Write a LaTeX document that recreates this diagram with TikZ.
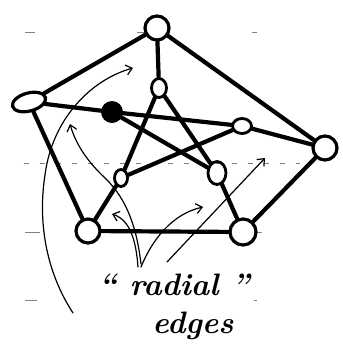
\documentclass[tikz,border=0pt]{standalone}
\usetikzlibrary{shapes.geometric,arrows.meta}
\begin{document}
\begin{tikzpicture}[x=1pt,y=-1pt,
  vtx/.style={circle,draw,line width=3.2pt,inner sep=0pt,minimum size=24pt},
  oval/.style={ellipse,draw,line width=2.8pt,inner sep=0pt},
  blob/.style={circle,fill,inner sep=0pt,minimum size=22pt},
  edge/.style={line width=4.2pt,line cap=round},
  annot/.style={line width=1.2pt,line cap=round,-{Straight Barb[length=6pt,width=10pt]}},
  ruling/.style={black!50,line width=0.7pt},
  hand/.style={font=\bfseries\itshape\fontsize{31}{31}\selectfont,inner sep=0pt,anchor=base}]
\useasboundingbox (0,0) rectangle (343,360);
% faint ruling of the paper
\draw[ruling] (25,32) -- (35,32) (137,32) -- (144,32) (252,32) -- (257,32);
\draw[ruling,dash pattern=on 5pt off 11pt] (24,163) -- (300,163);
\draw[ruling] (25,232) -- (40,232) (255,232) -- (262,232);
\draw[ruling] (25,300) -- (37,300) (254,300) -- (257,300);
% outer vertices
\node[vtx] (T) at (157,28) {};
\node[ellipse,draw,line width=3.2pt,inner sep=0pt,minimum width=34pt,minimum height=18pt,rotate=15] (L) at (29,102) {};
\node[vtx] (R) at (325,148) {};
\node[vtx] (BL) at (88,231) {};
\node[vtx,minimum size=26pt] (BR) at (243,232) {};
% inner vertices
\node[oval,minimum width=15pt,minimum height=19pt] (iT) at (159,88) {};
\node[blob] (iL) at (112,112) {};
\node[oval,minimum width=19pt,minimum height=15pt] (iR) at (242,126) {};
\node[oval,minimum width=13pt,minimum height=17pt] (iBL) at (121,178) {};
\node[oval,minimum width=18pt,minimum height=23pt] (iBR) at (217,173) {};
% outer cycle
\draw[edge] (T) -- (L);
\draw[edge] (T) -- (R);
\draw[edge] (L) -- (BL);
\draw[edge] (BL) -- (BR);
\draw[edge] (BR) -- (R);
% radial edges
\draw[edge] (T) -- (iT);
\draw[edge] (L) -- (iL);
\draw[edge] (R) -- (iR);
\draw[edge] (BL) -- (iBL);
\draw[edge] (BR) -- (iBR);
% inner pentagram
\draw[edge] (iT) -- (iBL);
\draw[edge] (iT) -- (iBR);
\draw[edge] (iL) -- (iR);
\draw[edge] (iL) -- (iBR);
\draw[edge] (iR) -- (iBL);
% label
\node[hand] (lab) at (174,295) {\textquotedblleft\ radial\ \textquotedblright};
\node[hand] (lab2) at (193,333) {edges};
% annotation arrows
\coordinate (a1s) at (73,313);
\coordinate (a1m) at (45,175);
\coordinate (a1e) at (133,68);
\draw[annot] (a1s) .. controls (45,270) and (38,220) .. (a1m) .. controls (52,120) and (90,80) .. (a1e);
\coordinate (a2s) at (141,264);
\coordinate (a2m) at (105,178);
\coordinate (a2e) at (70,124);
\draw[annot] (a2s) .. controls (137,230) and (128,200) .. (a2m) .. controls (88,162) and (76,145) .. (a2e);
\coordinate (a3s) at (138,267);
\coordinate (a3e) at (112,214);
\draw[annot] (a3s) .. controls (136,240) and (130,220) .. (a3e);
\coordinate (a4s) at (141,267);
\coordinate (a4e) at (203,207);
\draw[annot] (a4s) .. controls (152,240) and (172,214) .. (a4e);
\coordinate (a5s) at (167,262);
\coordinate (a5e) at (265,158);
\draw[annot] (a5s) -- (a5e);
\end{tikzpicture}
\end{document}
